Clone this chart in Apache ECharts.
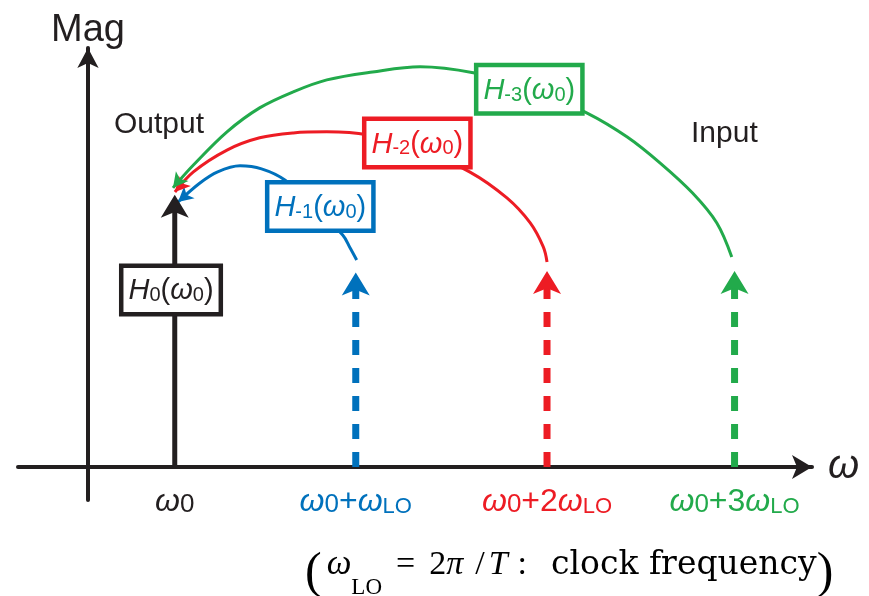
<!DOCTYPE html>
<html><head><meta charset="utf-8">
<script src="https://cdn.jsdelivr.net/npm/echarts@6/dist/echarts.min.js"></script>
<style>html,body{margin:0;padding:0;background:#fff}#c{width:869px;height:596px}</style>
</head><body><div id="c"></div>
<script>
// ---- data (axis units: y-axis at x = 0, ωLO spacing ≈ 2 units; magnitude: H0 ≈ 1) ----
const freqPos = [0.93, 2.87, 4.92, 6.93];          // ω0, ω0+ωLO, ω0+2ωLO, ω0+3ωLO
const magnitudes = [0.96, 0.675, 0.68, 0.68];      // arrow heights (head centre)
const harmonicIdx = ['0', '-1', '-2', '-3'];      // H subscripts
const tickMult = ['', '', '2', '3'];                // multiplier of ωLO in tick labels
const boxX = [0.89, 2.49, 3.53, 4.73];
const boxY = [0.651, 0.958, 1.191, 1.388];
const arcBlue = [[2.88,0.761],[2.81,0.805],[2.73,0.853],[2.40,0.963],[2.11,1.055],[1.86,1.096],[1.63,1.107],[1.39,1.085],[1.20,1.044],[0.965,0.974]];
const arcRed = [[4.92,0.754],[4.88,0.809],[4.74,0.897],[4.49,0.989],[4.09,1.085],[3.56,1.165],[2.99,1.221],[2.56,1.232],[2.20,1.228],[1.84,1.210],[1.49,1.165],[1.13,1.085],[0.932,1.011]];
const arcGreen = [[6.90,0.772],[6.74,0.897],[6.48,1.007],[6.13,1.118],[5.78,1.213],[5.35,1.301],[4.74,1.393],[4.13,1.449],[3.56,1.471],[3.05,1.452],[2.56,1.423],[2.20,1.379],[1.84,1.320],[1.49,1.232],[1.13,1.110],[0.911,1.026]];

// ---- styles ----
const colors = ['#231f20', '#0071bc', '#ed1c24', '#22aa4b'];
const arcs = [null, arcBlue, arcRed, arcGreen];
const arcArrowRotate = [0, 131, 139, 142];
const SANS = '"Liberation Sans", Arial, sans-serif';
const SERIF = '"Liberation Serif", "Times New Roman", serif';
const INK = '#231f20';

function richSet(k, big, small, sub2) {
  const c = colors[k];
  const base = {color: c, fontFamily: SANS, verticalAlign: 'bottom', fontWeight: 'normal'};
  const r = {};
  r['w' + k] = Object.assign({}, base, {fontSize: big, fontStyle: 'italic'});
  r['n' + k] = Object.assign({}, base, {fontSize: big});
  r['s' + k] = Object.assign({}, base, {fontSize: small});
  r['l' + k] = Object.assign({}, base, {fontSize: sub2});
  return r;
}
const tickRich = Object.assign({}, richSet(0, 32, 26, 22), richSet(1, 32, 26, 22), richSet(2, 32, 26, 22), richSet(3, 32, 26, 22));

function tickText(k) {
  let t = `{w${k}|ω}{s${k}|0}`;
  if (k > 0) t += `{n${k}|+${tickMult[k]}}{w${k}|ω}{l${k}|LO}`;
  return t;
}
function boxText(k) {
  return `{w${k}|H}{s${k}|${harmonicIdx[k]}}{n${k}|(}{w${k}|ω}{s${k}|0}{n${k}|)}`;
}

const series = [];
for (let k = 0; k < 4; k++) {
  const c = colors[k];
  // vertical spectral line with arrow head
  series.push({
    type: 'line', silent: true, z: 3, clip: false,
    symbol: 'arrow', symbolSize: [21, 23], symbolOffset: [0, -11],
    data: [{value: [freqPos[k], 0], symbol: 'none'}, {value: [freqPos[k], magnitudes[k]]}],
    lineStyle: {color: c, width: k ? 7 : 5, type: k ? [15, 13] : 'solid', cap: 'butt'},
    itemStyle: {color: c, opacity: 1}
  });
  // transfer arc
  if (arcs[k]) {
    const pts = arcs[k];
    series.push({
      type: 'line', silent: true, z: 2, clip: false, smooth: 0.35,
      symbol: 'none',
      data: pts.map((p, i) => i === pts.length - 1
        ? {value: p, symbol: 'arrow', symbolSize: [12, 15], symbolRotate: arcArrowRotate[k]}
        : {value: p}),
      lineStyle: {color: c, width: 3},
      itemStyle: {color: c, opacity: 1}
    });
  }
  // H_k(ω0) box
  series.push({
    type: 'scatter', silent: true, z: 6,
    symbolSize: 1, itemStyle: {color: 'rgba(0,0,0,0)', opacity: 1},
    data: [[boxX[k], boxY[k]]],
    label: {
      show: true, position: 'inside', opacity: 1,
      formatter: () => boxText(k),
      backgroundColor: '#fff', borderColor: c, borderWidth: 4.5,
      padding: [9, 5, 6, 5],
      rich: richSet(k, 29, 20, 20)
    }
  });
}

const fn = {fontFamily: SERIF, fontWeight: 'normal', color: '#000', verticalAlign: 'bottom'};
const fnMain = Object.assign({}, fn, {fontSize: 34, lineHeight: 30});
const footRich = {
  p: Object.assign({}, fn, {fontSize: 50, lineHeight: 56}),
  w: Object.assign({}, fnMain, {fontSize: 35, fontStyle: 'italic', padding: [0, 0, 17, 5]}),
  sub: Object.assign({}, fn, {fontSize: 23, lineHeight: 19}),
  eq: Object.assign({}, fnMain, {padding: [0, 14, 17, 14]}),
  m: Object.assign({}, fnMain, {padding: [0, 0, 17, 0]}),
  it: Object.assign({}, fnMain, {fontStyle: 'italic', padding: [0, 0, 17, 0]}),
  sl: Object.assign({}, fnMain, {padding: [0, 4, 17, 12]}),
  co: Object.assign({}, fnMain, {padding: [0, 24, 17, 10]}),
  t: Object.assign({}, fnMain, {fontSize: 33, fontFamily: '"DejaVu Serif", serif', padding: [0, 0, 17, 0]})
};

const chart = echarts.init(document.getElementById('c'), null, {renderer: 'canvas'});
chart.setOption({
  animation: false,
  backgroundColor: '#fff',
  grid: {left: 18, right: 57, top: 48, bottom: 96, containLabel: false, outerBoundsMode: 'none'},
  xAxis: {
    type: 'value', min: -0.75, max: 7.76,
    name: 'ω', nameLocation: 'end', nameGap: 16,
    nameTextStyle: {fontSize: 40, fontStyle: 'italic', color: INK, fontFamily: SANS, verticalAlign: 'middle'},
    axisLine: {show: true, onZero: true, symbol: ['none', 'arrow'], symbolSize: [18, 20],
      lineStyle: {color: INK, width: 4}},
    axisTick: {show: false},
    splitLine: {show: false},
    axisLabel: {
      show: true, margin: -14, customValues: freqPos,
      formatter: function (v) {
        let best = 0;
        for (let i = 1; i < freqPos.length; i++) if (Math.abs(freqPos[i] - v) < Math.abs(freqPos[best] - v)) best = i;
        return tickText(best);
      },
      rich: tickRich
    }
  },
  yAxis: {
    type: 'value', min: -0.121, max: 1.54,
    name: 'Mag', nameLocation: 'end', nameGap: -2,
    nameTextStyle: {fontSize: 38, color: INK, fontFamily: SANS},
    axisLine: {show: true, onZero: true, symbol: ['none', 'arrow'], symbolSize: [16, 20],
      lineStyle: {color: INK, width: 4}},
    axisTick: {show: false},
    axisLabel: {show: false},
    splitLine: {show: false}
  },
  title: [
    {text: 'Output', left: 114, top: 110, padding: 0,
      textStyle: {fontSize: 30, fontWeight: 'normal', color: INK, fontFamily: SANS}},
    {text: 'Input', left: 691, top: 119, padding: 0,
      textStyle: {fontSize: 30, fontWeight: 'normal', color: INK, fontFamily: SANS}},
    {text: '{p|(}{w|ω}{sub|LO}{eq|=}{m|2}{it|π}{sl|/}{it|T}{co|:}{t|clock frequency}{p|)}',
      left: 305, top: 543, padding: 0,
      textStyle: {fontSize: 34, fontWeight: 'normal', color: '#000', fontFamily: SERIF, rich: footRich}}
  ],
  series: series
});
</script></body></html>
